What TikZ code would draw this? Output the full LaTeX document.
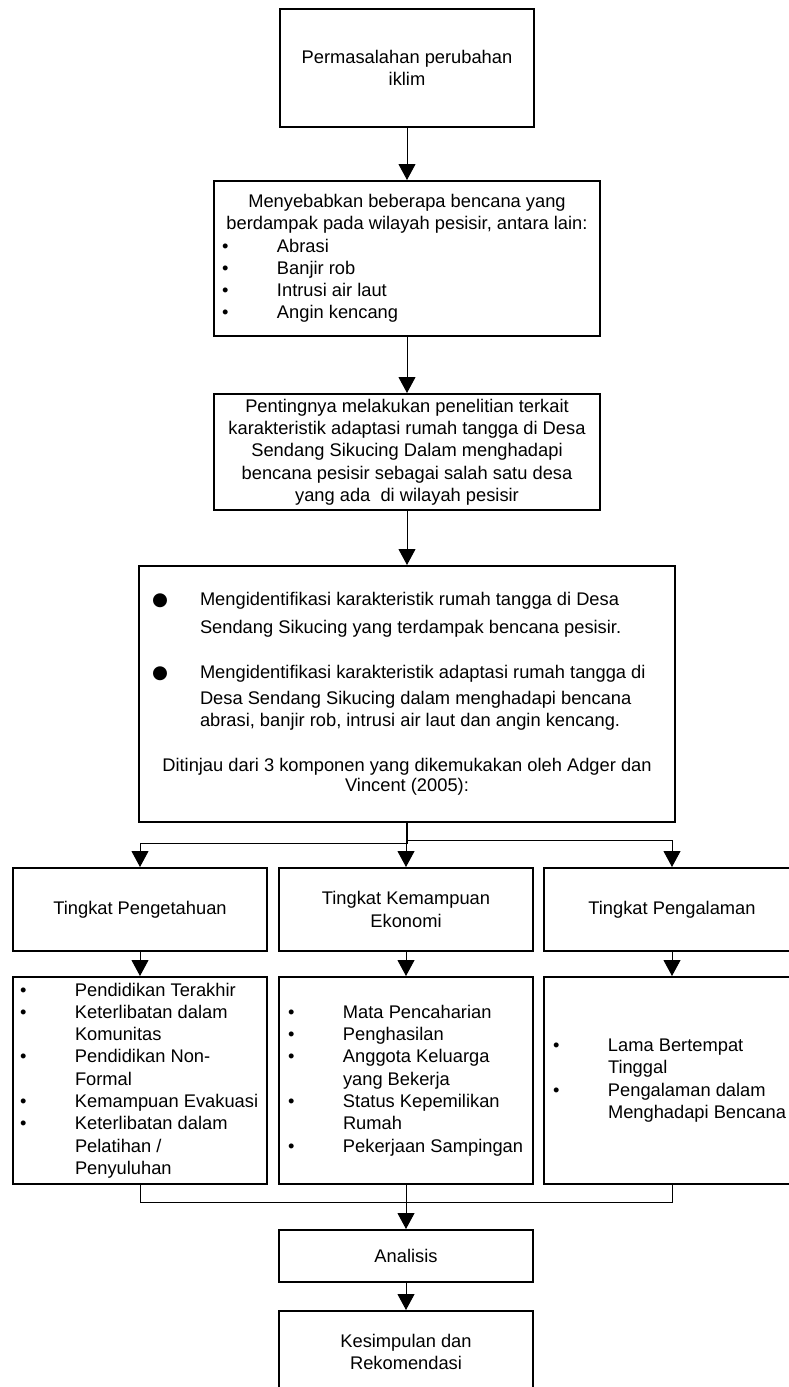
\documentclass[tikz,border=0pt]{standalone}
\usepackage{fontspec}
\setmainfont{Liberation Sans}
\newfontfamily\dotfont{DejaVu Sans}
\usetikzlibrary{arrows.meta}

\newcommand{\bigdot}{\hspace*{3pt}\makebox[48pt][l]{\dotfont ●}}
\newcommand{\listdot}[1]{\hspace*{#1}\makebox[55pt][l]{\textbullet}}

\begin{document}
\begin{tikzpicture}[x=1pt, y=-1pt,
    box/.style={draw, line width=2pt, inner sep=2pt, font=\fontsize{18.3}{22.3}\selectfont},
    arrow/.style={-{Triangle[width=17pt,length=16pt]}, line width=1pt},
    link/.style={line width=1pt}]
    \useasboundingbox (0,0) rectangle (789,1387);

    % Nodes
    \node (issue) [box, minimum width=254pt, minimum height=118pt, align=center] at (407, 68) {Permasalahan perubahan\\iklim};
    \node (hazard) [box, minimum width=386pt, minimum height=155pt] at (407, 258.5) {\begin{minipage}{380pt}
        \centering Menyebabkan beberapa bencana yang\\berdampak pada wilayah pesisir, antara lain:\par
        \raggedright
        \listdot{5pt}Abrasi\\
        \listdot{5pt}Banjir rob\\
        \listdot{5pt}Intrusi air laut\\
        \listdot{5pt}Angin kencang
    \end{minipage}};
    \node (urgency) [box, minimum width=386pt, minimum height=116pt, align=center] at (407, 452) {Pentingnya melakukan penelitian terkait\\karakteristik adaptasi rumah tangga di Desa\\Sendang Sikucing Dalam menghadapi\\bencana pesisir sebagai salah satu desa\\yang ada~ di wilayah pesisir};
    \node (goal) [box, minimum width=536pt, minimum height=256pt] at (407, 694) {\begin{minipage}{516pt}
        \raggedright
        \bigdot Mengidentifikasi karakteristik rumah tangga di Desa\\[5pt]
        \hspace*{51pt}Sendang Sikucing yang terdampak bencana pesisir.\\[23pt]
        \bigdot Mengidentifikasi karakteristik adaptasi rumah tangga di\\[4pt]
        \hspace*{51pt}Desa Sendang Sikucing dalam menghadapi bencana\\[-1pt]
        \hspace*{51pt}abrasi, banjir rob, intrusi air laut dan angin kencang.\par
        \vspace{23pt}
        \centering Ditinjau dari 3 komponen yang dikemukakan oleh Adger dan\\[-2pt]
        Vincent (2005):
    \end{minipage}};

    \node (know) [box, minimum width=254pt, minimum height=83pt, align=center] at (140, 909.5) {Tingkat Pengetahuan};
    \node (econ) [box, minimum width=254pt, minimum height=83pt, align=center] at (406, 909.5) {Tingkat Kemampuan\\Ekonomi};
    \node (exp) [box, minimum width=256pt, minimum height=83pt, align=center] at (672, 909.5) {Tingkat Pengalaman};

    \node (knowlist) [box, minimum width=254pt, minimum height=207pt] at (140, 1080.5) {\begin{minipage}{246pt}
        \raggedright
        \listdot{3pt}Pendidikan Terakhir\\
        \listdot{3pt}Keterlibatan dalam\\
        \hspace*{58pt}Komunitas\\
        \listdot{3pt}Pendidikan Non-\\
        \hspace*{58pt}Formal\\
        \listdot{3pt}Kemampuan Evakuasi\\
        \listdot{3pt}Keterlibatan dalam\\
        \hspace*{58pt}Pelatihan /\\
        \hspace*{58pt}Penyuluhan
    \end{minipage}};
    \node (econlist) [box, minimum width=254pt, minimum height=207pt] at (406, 1080.5) {\begin{minipage}{246pt}
        \raggedright
        \listdot{5pt}Mata Pencaharian\\
        \listdot{5pt}Penghasilan\\
        \listdot{5pt}Anggota Keluarga\\
        \hspace*{60pt}yang Bekerja\\
        \listdot{5pt}Status Kepemilikan\\
        \hspace*{60pt}Rumah\\
        \listdot{5pt}Pekerjaan Sampingan
    \end{minipage}};
    \node (explist) [box, minimum width=256pt, minimum height=207pt] at (672, 1080.5) {\begin{minipage}{248pt}
        \raggedright
        \listdot{5pt}Lama Bertempat\\
        \hspace*{60pt}Tinggal\\
        \listdot{5pt}Pengalaman dalam\\
        \hspace*{60pt}Menghadapi Bencana
    \end{minipage}};

    \node (analysis) [box, minimum width=254pt, minimum height=52pt, align=center] at (406, 1256) {Analisis};
    \node (conclusion) [box, minimum width=254pt, minimum height=82pt, align=center] at (406, 1352) {Kesimpulan dan\\Rekomendasi};
    \coordinate (merge) at (406, 1202);

    % Edges
    \draw[arrow] (issue) -- (hazard);
    \draw[arrow] (hazard) -- (urgency);
    \draw[arrow] (urgency) -- (goal);
    \draw[arrow] (goal.south) -- ++(0,20) -| (know.north);
    \draw[arrow] (econ.north |- goal.south) -- (econ.north);
    \draw[arrow] (goal.south) -- ++(0,17) -| (exp.north);
    \draw[arrow] (know.south) -- (knowlist.north);
    \draw[arrow] (econ.south) -- (econlist.north);
    \draw[arrow] (exp.south) -- (explist.north);
    \draw[link] (knowlist.south) |- (merge);
    \draw[link] (explist.south) |- (merge);
    \draw[arrow] (econlist) -- (analysis);
    \draw[arrow] (analysis) -- (conclusion);

\end{tikzpicture}
\end{document}
